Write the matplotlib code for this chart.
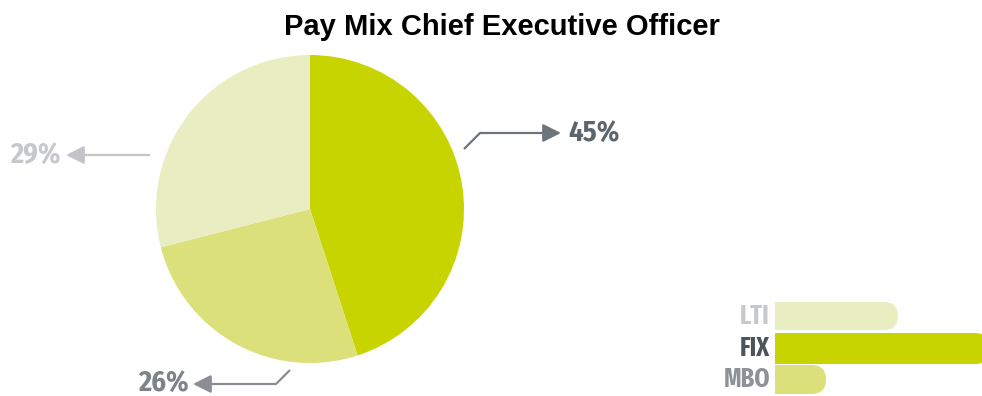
import matplotlib
matplotlib.use('Agg')
import matplotlib.pyplot as plt
from matplotlib.patches import Rectangle, FancyBboxPatch

# Pay mix shares (percent)
categories = ['FIX', 'MBO', 'LTI']
shares     = [45, 26, 29]
colors     = ['#C8D400', '#DCE07A', '#E9EEC2']
labels     = ['45%', '26%', '29%']
label_cols = ['#5E646C', '#7E8289', '#C6C8CB']

# Legend strip: order top to bottom and right end of each bar
legend_names = ['LTI', 'FIX', 'MBO']
legend_ends  = [898, 990, 826]
legend_cols  = ['#E9EEC2', '#C8D400', '#DCE07A']
legend_txt   = ['#C6C8CB', '#4E545C', '#8E9298']

W, H = 982, 396
narrow = ['Fira Sans Condensed', 'Roboto Condensed', 'Liberation Sans', 'DejaVu Sans']
xnarrow = ['Fira Sans Extra Condensed', 'Fira Sans Condensed', 'Liberation Sans', 'DejaVu Sans']

fig = plt.figure(figsize=(W/100, H/100), dpi=100)
ax = fig.add_axes([0, 0, 1, 1])

def py(y):
    # pixel row -> data y
    return H - y

# Pie, clockwise from 12 o'clock
ax.pie(shares, colors=colors, startangle=90, counterclock=False,
       center=(310, py(209)), radius=154, frame=True,
       wedgeprops=dict(linewidth=0))
ax.set_xlim(0, W)
ax.set_ylim(0, H)
ax.set_aspect('equal')
ax.axis('off')

fig.text(502 / W, 1 - 35/H, 'Pay Mix Chief Executive Officer', ha='center', va='baseline',
         fontsize=21, fontweight='bold', family=['Liberation Sans', 'DejaVu Sans'])

# Callout arrows
def callout(pts, tip, col):
    xs = [p[0] for p in pts]
    ys = [py(p[1]) for p in pts]
    ax.plot(xs, ys, color=col, lw=1.6, solid_capstyle='butt')
    ax.annotate('', xy=(tip[0], py(tip[1])), xytext=(pts[-1][0], py(pts[-1][1])),
                arrowprops=dict(arrowstyle='-|>,head_length=1.1,head_width=0.55',
                                color=col, lw=1.6, shrinkA=0, shrinkB=0))

callout([(464, 149), (480, 133), (545, 133)], (561, 133), '#6E747C')
callout([(290, 370), (276, 384), (210, 384)], (193, 384), '#8A8E94')
callout([(150, 155), (82, 155)], (66, 155), '#C2C4C7')

ax.text(568, py(133), labels[0], ha='left', va='center', fontsize=20.5,
        fontweight='bold', color=label_cols[0], family=narrow)
ax.text(138, py(383), labels[1], ha='left', va='center', fontsize=20.5,
        fontweight='bold', color=label_cols[1], family=narrow)
ax.text(10, py(155), labels[2], ha='left', va='center', fontsize=20.5,
        fontweight='bold', color=label_cols[2], family=narrow)

# Legend bars with rounded right ends
x0 = 775
rows = [(302, 330), (333, 364), (365, 394)]
for name, end, col, tcol, (top, bot) in zip(legend_names, legend_ends,
                                            legend_cols, legend_txt, rows):
    h = bot - top
    r = h / 2
    ax.add_patch(FancyBboxPatch((x0, py(bot)), end - x0, h,
                                boxstyle=f'round,pad=0,rounding_size={r}',
                                fc=col, ec='none'))
    ax.add_patch(Rectangle((x0, py(bot)), r + 2, h, fc=col, ec='none'))
    ax.text(770, py((top + bot) / 2), name, ha='right', va='center',
            fontsize=19, fontweight='bold', color=tcol, family=xnarrow)

fig.savefig('out.png', dpi=100)
